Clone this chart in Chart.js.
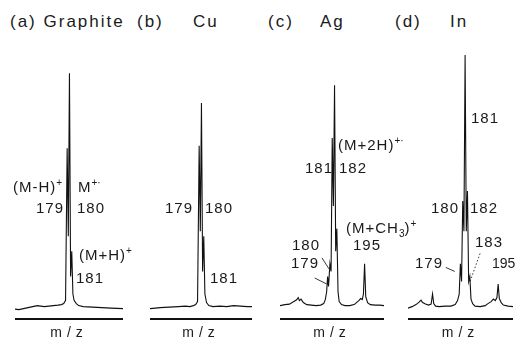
<!DOCTYPE html>
<html>
<head>
<meta charset="utf-8">
<script src="https://cdn.jsdelivr.net/npm/chart.js@4/dist/chart.umd.min.js"></script>
<style>
  body { margin: 0; background: #fff; }
  #fig { position: relative; width: 516px; height: 338px; overflow: hidden;
         font-family: 'Liberation Sans', Arial, sans-serif; color: #1a1a1a; }
  #fig canvas { position: absolute; top: 40px; }
  .t { position: absolute; font-size: 17px; letter-spacing: 2px; line-height: 20px; white-space: nowrap; }
  .l { position: absolute; font-size: 15px; letter-spacing: 1px; line-height: 16px; white-space: nowrap; }
  sup { font-size: 10px; vertical-align: 6px; line-height: 0; letter-spacing: 0; }
  sub { font-size: 10px; vertical-align: -4px; line-height: 0; letter-spacing: 0; }
</style>
</head>
<body>
<div id="fig">
  <canvas id="specA" width="108" height="302" style="left:15px"></canvas>
  <canvas id="specB" width="102" height="302" style="left:150px"></canvas>
  <canvas id="specC" width="104" height="302" style="left:280px"></canvas>
  <canvas id="specD" width="105" height="302" style="left:408px"></canvas>

  <!-- panel headings -->
  <div class="t" style="left:10px;top:12px">(a) Graphite</div>
  <div class="t" style="left:137px;top:12px">(b)</div>
  <div class="t" style="left:193px;top:12px">Cu</div>
  <div class="t" style="left:268px;top:12px">(c)</div>
  <div class="t" style="left:320px;top:12px">Ag</div>
  <div class="t" style="left:395px;top:12px">(d)</div>
  <div class="t" style="left:450px;top:12px">In</div>

  <!-- (a) graphite peak labels -->
  <div class="l" style="left:13px;top:179px">(M-H)<sup>+</sup></div>
  <div class="l" style="left:78px;top:179px">M<sup>+·</sup></div>
  <div class="l" style="left:36px;top:200px">179</div>
  <div class="l" style="left:77px;top:200px">180</div>
  <div class="l" style="left:79px;top:247px">(M+H)<sup>+</sup></div>
  <div class="l" style="left:76px;top:270px">181</div>

  <!-- (b) Cu -->
  <div class="l" style="left:165px;top:200px">179</div>
  <div class="l" style="left:205px;top:200px">180</div>
  <div class="l" style="left:210px;top:270px">181</div>

  <!-- (c) Ag -->
  <div class="l" style="left:338px;top:137px">(M+2H)<sup>+·</sup></div>
  <div class="l" style="left:305px;top:160px">181</div>
  <div class="l" style="left:339px;top:160px">182</div>
  <div class="l" style="left:346px;top:220px">(M+CH<sub>3</sub>)<sup>+</sup></div>
  <div class="l" style="left:292px;top:237px">180</div>
  <div class="l" style="left:353px;top:237px">195</div>
  <div class="l" style="left:291px;top:255px">179</div>

  <!-- (d) In -->
  <div class="l" style="left:471px;top:110px">181</div>
  <div class="l" style="left:431px;top:200px">180</div>
  <div class="l" style="left:470px;top:200px">182</div>
  <div class="l" style="left:475px;top:234px">183</div>
  <div class="l" style="left:492px;top:255px;font-size:14px;letter-spacing:0">195</div>
  <div class="l" style="left:415px;top:255px">179</div>
</div>

<script>
// m/z positions and relative intensities for each desorption surface
const mzGraphite  = [156.3, 158, 160, 162, 164, 166, 167.5, 169, 171, 173, 175, 176.5, 177.5, 178.3,
                     179, 179.5, 180, 180.5, 181, 181.5, 182, 183, 184, 186, 190, 194, 198, 203.3];
const intGraphite = [-1.0, -1.2, -0.8, -0.4, 0.0, 0.4, 0.2, 0.0, 0.2, 0.4, 0.6, 0.8, 1.2, 2.5,
                     63, 28, 92.8, 12, 22, 5, 2.5, 1.2, 0.4, 0.0, -0.2, -0.4, -0.6, -0.8];

const mzCu  = [157.6, 160, 162, 166, 170, 173, 175, 176.5, 177.5, 178.3, 179, 179.5, 180, 180.5,
               181, 181.5, 182.2, 183.2, 185, 188, 191, 194, 197, 200, 202];
const intCu = [-0.8, -0.6, -0.4, -0.2, 0.0, 0.2, 0.0, 0.4, 0.8, 2.0, 64, 30, 81, 14,
               28, 5, 1.6, 0.4, 0.0, 0.2, 0.0, 0.4, 0.2, 0.0, 0.0];

const mzAg  = [158.4, 160.5, 162.5, 164, 165.5, 166.3, 166.8, 167.5, 168.5, 170, 172, 174, 176, 177.3,
               178, 178.6, 179, 179.4, 180, 180.5, 181, 181.5, 182, 182.5, 183, 183.5, 184, 185,
               186.5, 188.5, 190.5, 191.5, 192.5, 193.3, 194, 194.5, 195, 195.5, 196.3, 197.5,
               199.5, 201.5, 203.4];
const intAg = [0.4, 0.8, 1.0, 1.8, 2.6, 3.6, 2.4, 3.0, 1.6, 0.8, 0.6, 0.4, 0.6, 1.2,
               2.8, 6, 12, 8, 17, 14, 67, 40, 88, 22, 31, 6, 2.0, 0.8,
               0.4, 0.4, 0.8, 1.6, 2.4, 3.2, 2.8, 5, 17, 4, 1.6, 0.8,
               0.6, 0.6, 0.4];

const mzIn  = [156.8, 158.5, 160.2, 161.5, 162.3, 163, 164.2, 165.5, 166.6, 167.2, 167.7, 168.5, 170,
               172.5, 175, 176.8, 177.8, 178.5, 179, 179.5, 180, 180.5, 181, 181.5, 182, 182.5,
               183, 183.5, 184.2, 185.2, 187.4, 189.5, 190.7, 192, 193, 193.8, 194.5, 195, 195.5,
               196.3, 197.2, 199.2, 201.3];
const intIn = [-0.6, 0.0, 0.8, 1.8, 2.6, 1.6, 1.0, 0.6, 1.0, 5.0, 1.2, 0.2, 0.0,
               0.2, 0.2, 0.8, 2.4, 5, 17, 10, 42, 30, 100, 30, 46, 10,
               12, 3, 1.2, 0.2, 0.0, 0.4, 1.2, 2.0, 3.0, 2.4, 3.6, 9, 3.2,
               1.6, 0.6, 0.2, 0.0];

// short pointer lines from a label to its peak
const leaderLines = {
  id: 'leaderLines',
  afterDatasetsDraw(chart, args, opts) {
    const { ctx, scales: { x, y } } = chart;
    (opts.lines || []).forEach(l => {
      const px = x.getPixelForValue(l.mz), py = y.getPixelForValue(l.level);
      ctx.save();
      ctx.strokeStyle = '#222';
      ctx.lineWidth = 0.9;
      ctx.setLineDash(l.dash || []);
      ctx.beginPath();
      ctx.moveTo(px + l.dx, py + l.dy);
      ctx.lineTo(px, py);
      ctx.stroke();
      ctx.restore();
    });
  }
};

// wide spacing for the "m/z" axis caption
const spacedTitle = {
  id: 'spacedTitle',
  beforeDraw(chart) { chart.ctx.letterSpacing = '5px'; },
  afterDraw(chart) { chart.ctx.letterSpacing = '0px'; }
};

function drawSpectrum(id, mz, intensity, xMin, xMax, leaders) {
  const points = mz.map((m, i) => ({ x: m, y: intensity[i] }));
  new Chart(document.getElementById(id), {
    type: 'line',
    data: {
      datasets: [{
        data: points,
        borderColor: '#111',
        borderWidth: 1.1,
        pointRadius: 0,
        tension: 0,
        fill: false
      }]
    },
    options: {
      responsive: false,
      animation: false,
      layout: { padding: 0 },
      plugins: {
        legend: { display: false },
        tooltip: { enabled: false },
        leaderLines: { lines: leaders || [] }
      },
      scales: {
        x: {
          type: 'linear',
          min: xMin,
          max: xMax,
          grid: { display: false, drawTicks: false },
          ticks: { display: false },
          border: { display: true, color: '#111', width: 2 },
          title: {
            display: true,
            text: 'm/z',
            color: '#1a1a1a',
            font: { family: 'Liberation Sans', size: 14 },
            padding: { top: 6, bottom: 0 }
          }
        },
        y: { display: false, min: -5, max: 106 }
      }
    },
    plugins: [leaderLines, spacedTitle]
  });
}

drawSpectrum('specA', mzGraphite, intGraphite, 156.3, 203.3);
drawSpectrum('specB', mzCu, intCu, 157.6, 202);
drawSpectrum('specC', mzAg, intAg, 158.4, 203.4, [
  { mz: 179.6, level: 15, dx: -7, dy: -11 },
  { mz: 178.6, level: 9, dx: -12, dy: -6 }
]);
drawSpectrum('specD', mzIn, intIn, 156.8, 201.3, [
  { mz: 176.6, level: 14, dx: -9, dy: -4 },
  { mz: 183.1, level: 10, dx: 10, dy: -28, dash: [1.5, 2] }
]);
</script>
</body>
</html>
